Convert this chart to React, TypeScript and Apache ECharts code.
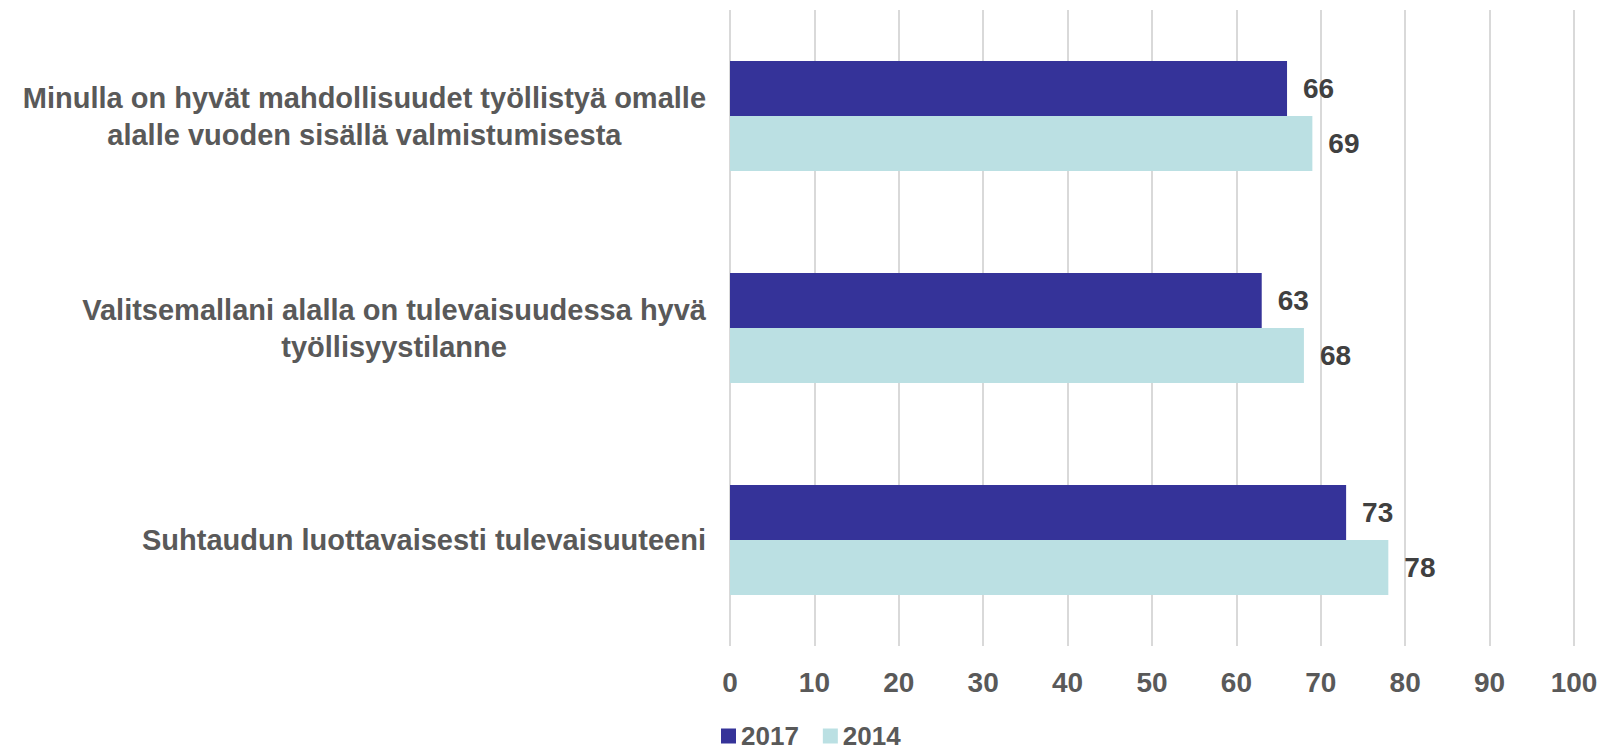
import React, { useEffect, useRef } from "react";
import * as echarts from "echarts";

const categories = [
  "Minulla on hyvät mahdollisuudet työllistyä omalle\nalalle vuoden sisällä valmistumisesta",
  "Valitsemallani alalla on tulevaisuudessa hyvä\ntyöllisyystilanne",
  "Suhtaudun luottavaisesti tulevaisuuteeni",
];
const seriesNames = ["2017", "2014"];
const values2017 = [66, 63, 73];
const values2014 = [69, 68, 78];
const colors = ["#353399", "#BBE0E3"];

export default function App() {
  const ref = useRef<HTMLDivElement>(null);
  useEffect(() => {
    if (!ref.current) return;
    const chart = echarts.init(ref.current, null, { renderer: "svg" });
    const font = "'Liberation Sans', Arial, sans-serif";
    const labelStyle = {
      show: true,
      position: "right",
      distance: 16,
      fontFamily: font,
      fontSize: 28,
      fontWeight: "bold",
      color: "#404040",
    };
    chart.setOption({
      animation: false,
      grid: { left: 730, right: 39, top: 10, bottom: 106, containLabel: false },
      legend: {
        data: seriesNames,
        left: 721,
        top: 723,
        padding: 0,
        itemWidth: 15,
        itemHeight: 15,
        itemGap: 24,
        icon: "rect",
        textStyle: {
          fontFamily: font,
          fontSize: 26,
          fontWeight: "bold",
          color: "#595959",
          lineHeight: 24,
        },
      },
      xAxis: {
        type: "value",
        min: 0,
        max: 100,
        interval: 10,
        axisLine: { show: false },
        axisTick: { show: false },
        splitLine: { show: true, lineStyle: { color: "#D9D9D9", width: 2 } },
        axisLabel: {
          margin: 22,
          fontFamily: font,
          fontSize: 28,
          fontWeight: "bold",
          color: "#595959",
        },
      },
      yAxis: {
        type: "category",
        data: categories,
        inverse: true,
        axisLine: { show: false },
        axisTick: { show: false },
        splitLine: { show: false },
        axisLabel: {
          margin: 24,
          formatter: (v: string) =>
            v
              .split("\n")
              .map((l) => `{c|${l}}`)
              .join("\n"),
          rich: {
            c: {
              fontFamily: font,
              fontSize: 29,
              fontWeight: "bold",
              color: "#595959",
              align: "center",
              lineHeight: 37,
            },
          },
        },
      },
      series: [
        {
          name: seriesNames[0],
          type: "bar",
          data: values2017,
          barGap: "0%",
          barCategoryGap: "48%",
          itemStyle: { color: colors[0] },
          label: labelStyle,
        },
        {
          name: seriesNames[1],
          type: "bar",
          data: values2014,
          barGap: "0%",
          barCategoryGap: "48%",
          itemStyle: { color: colors[1] },
          label: labelStyle,
        },
      ],
    });
    return () => chart.dispose();
  }, []);
  return <div ref={ref} style={{ width: 1613, height: 752, position: "absolute", left: 0, top: 0 }} />;
}
